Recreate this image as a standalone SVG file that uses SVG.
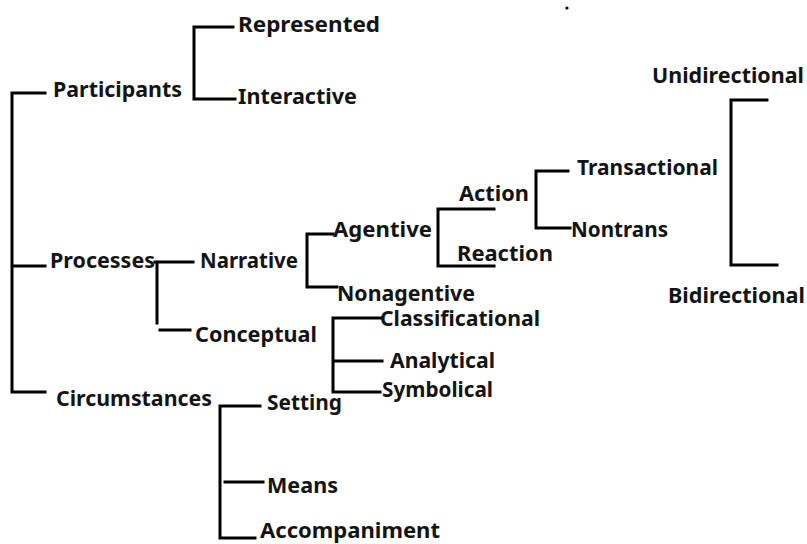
<svg xmlns="http://www.w3.org/2000/svg" width="807" height="544" viewBox="0 0 807 544">
<style>
.t{font-family:"Noto Sans","Open Sans","Liberation Sans",sans-serif;font-weight:bold;font-size:21px;fill:#141414}
.c{fill:none;stroke:#000;stroke-width:3;stroke-linecap:square;stroke-linejoin:miter}
</style>
<rect width="807" height="544" fill="#fff"/>
<circle cx="567" cy="8" r="1.6" fill="#000"/>
<g id="connectors" class="c">
<path d="M45 93 H12 V392 H45 M12 266 H45"/>
<path d="M233 27 H194 V99 H235"/>
<path d="M155 262 H193 M157 262 V323 M160 330 H190"/>
<path d="M333 234 H307 V287 H337"/>
<path d="M494 209 H438 V266 H494"/>
<path d="M568 171 H536 V228 H570"/>
<path d="M767 100 H731 V265 H777"/>
<path d="M382 318 H333 V392 H380 M333 361 H382"/>
<path d="M260 406 H220 V538 H255 M225 482 H263"/>
</g>
<g id="participants"><text class="t" x="53" y="97" textLength="129" lengthAdjust="spacingAndGlyphs">Participants</text></g>
<g id="represented"><text class="t" x="238" y="32" textLength="142" lengthAdjust="spacingAndGlyphs">Represented</text></g>
<g id="interactive"><text class="t" x="238" y="104" textLength="119" lengthAdjust="spacingAndGlyphs">Interactive</text></g>
<g id="processes"><text class="t" x="50" y="268" textLength="105" lengthAdjust="spacingAndGlyphs">Processes</text></g>
<g id="narrative"><text class="t" x="200" y="268" textLength="98" lengthAdjust="spacingAndGlyphs">Narrative</text></g>
<g id="conceptual"><text class="t" x="195" y="342" textLength="122" lengthAdjust="spacingAndGlyphs">Conceptual</text></g>
<g id="agentive"><text class="t" x="333" y="237" textLength="99" lengthAdjust="spacingAndGlyphs">Agentive</text></g>
<g id="nonagentive"><text class="t" x="337" y="301" textLength="138" lengthAdjust="spacingAndGlyphs">Nonagentive</text></g>
<g id="action"><text class="t" x="459" y="201" textLength="70" lengthAdjust="spacingAndGlyphs">Action</text></g>
<g id="reaction"><text class="t" x="457" y="261" textLength="96" lengthAdjust="spacingAndGlyphs">Reaction</text></g>
<g id="transactional"><text class="t" x="577" y="175" textLength="141" lengthAdjust="spacingAndGlyphs">Transactional</text></g>
<g id="nontrans"><text class="t" x="571" y="237" textLength="97" lengthAdjust="spacingAndGlyphs">Nontrans</text></g>
<g id="unidirectional"><text class="t" x="652" y="83" textLength="152" lengthAdjust="spacingAndGlyphs">Unidirectional</text></g>
<g id="bidirectional"><text class="t" x="668" y="303" textLength="137" lengthAdjust="spacingAndGlyphs">Bidirectional</text></g>
<g id="classificational"><text class="t" x="380" y="326" textLength="160" lengthAdjust="spacingAndGlyphs">Classificational</text></g>
<g id="analytical"><text class="t" x="390" y="368" textLength="105" lengthAdjust="spacingAndGlyphs">Analytical</text></g>
<g id="symbolical"><text class="t" x="382" y="397" textLength="111" lengthAdjust="spacingAndGlyphs">Symbolical</text></g>
<g id="circumstances"><text class="t" x="56" y="406" textLength="156" lengthAdjust="spacingAndGlyphs">Circumstances</text></g>
<g id="setting"><text class="t" x="267" y="410" textLength="75" lengthAdjust="spacingAndGlyphs">Setting</text></g>
<g id="means"><text class="t" x="267" y="493" textLength="71" lengthAdjust="spacingAndGlyphs">Means</text></g>
<g id="accompaniment"><text class="t" x="260" y="538" textLength="180" lengthAdjust="spacingAndGlyphs">Accompaniment</text></g>
</svg>
